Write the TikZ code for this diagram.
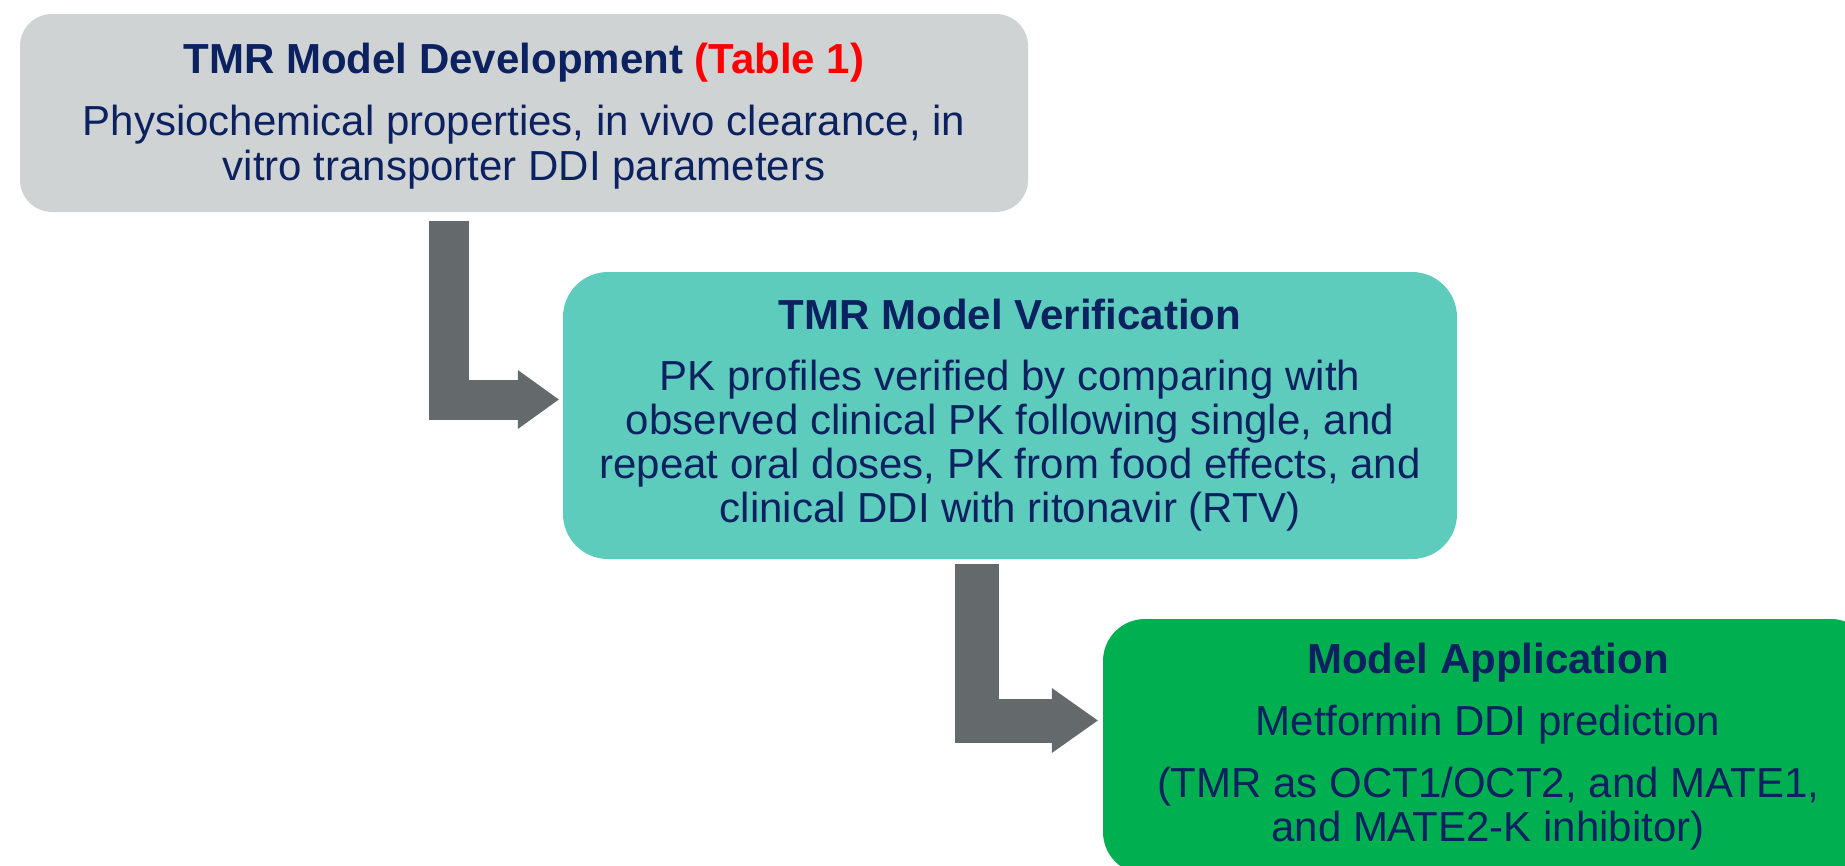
\documentclass[tikz,border=0pt]{standalone}
\usepackage{fontspec}
\setmainfont{Liberation Sans}
\usetikzlibrary{arrows.meta,calc}
\definecolor{devgray}{HTML}{D0D3D4}
\definecolor{verteal}{HTML}{5ECCBC}
\definecolor{appgreen}{HTML}{00B050}
\definecolor{arrowgray}{HTML}{646A6C}
\definecolor{navy}{HTML}{0B2160}
\definecolor{tabred}{HTML}{FF0000}
\begin{document}
\begin{tikzpicture}[x=1pt,y=-1pt,
  stage/.style={inner sep=0pt,align=center,text=navy,
    font=\fontsize{42}{44}\selectfont},
  flow/.style={draw=arrowgray,
    -{Triangle[length=41pt,width=59pt,line width=0pt]}}]
\useasboundingbox (0,0) rectangle (1845,865);
\clip (0,0) rectangle (1845,865);
% stages
\node[stage,fill=devgray,rounded corners=32pt,minimum width=1008pt,minimum height=198pt] (dev) at (524,113) {};
\node[stage] (devtext) at (524,116)
  {\textbf{TMR Model Development \textcolor{tabred}{(Table 1)}}\\[18pt]
   Physiochemical properties, in vivo clearance, in\\[1pt]
   vitro transporter DDI parameters};
\node[stage,fill=verteal,rounded corners=45pt,minimum width=894pt,minimum height=287pt] (ver) at (1010,415.5)
  {\textbf{TMR Model Verification}\\[17pt]
   PK profiles verified by comparing with\\
   observed clinical PK following single, and\\
   repeat oral doses, PK from food effects, and\\
   clinical DDI with ritonavir (RTV)};
\node[stage,fill=appgreen,rounded corners=42pt,minimum width=770pt,minimum height=255pt] (app) at (1488,746.5)
  {\textbf{Model Application}\\[18pt]
   Metformin DDI prediction\\[18pt]
   (TMR as OCT1/OCT2, and MATE1,\\
   and MATE2-K inhibitor)};
% bent arrows
\coordinate (a1top) at ($(dev.south)+(-75,9)$);
\coordinate (a1tip) at ($(ver.west)+(-4,-16)$);
\draw[flow,line width=40pt] (a1top) |- (a1tip);
\coordinate (a2top) at ($(ver.south)+(-33,5)$);
\coordinate (a2tip) at ($(app.west)+(-5,-26)$);
\draw[flow,line width=44pt,-{Triangle[length=46pt,width=65pt,line width=0pt]}] (a2top) |- (a2tip);
\end{tikzpicture}
\end{document}
